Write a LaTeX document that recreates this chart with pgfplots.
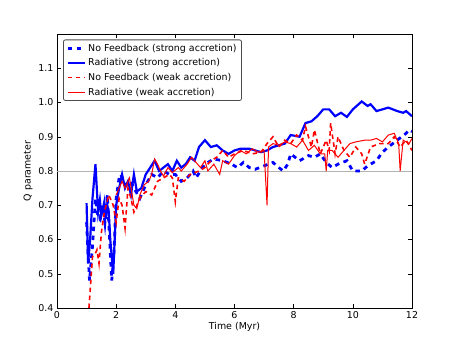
\documentclass[border=0pt]{standalone}
\usepackage{pgfplots}
\pgfplotsset{compat=1.18}
\usepackage{fontspec}
\setmainfont{DejaVu Sans}

% Q parameter, strong accretion, no feedback
\newcommand{\nfstrong}{
(1.0,0.65) (1.05,0.56) (1.1,0.48) (1.2,0.58) (1.3,0.72) (1.38,0.67) (1.45,0.66) (1.55,0.70) (1.62,0.65) (1.7,0.73) (1.78,0.60) (1.85,0.48) (1.92,0.55) (2.0,0.72) (2.1,0.78) (2.15,0.79) (2.3,0.76) (2.5,0.77) (2.6,0.75) (2.8,0.72) (3.0,0.76) (3.2,0.79) (3.4,0.78) (3.6,0.80) (3.8,0.79) (4.0,0.79) (4.2,0.77) (4.4,0.78) (4.6,0.80) (4.7,0.78) (5.0,0.82) (5.3,0.835) (5.6,0.83) (5.9,0.82) (6.1,0.81) (6.3,0.825) (6.5,0.81) (6.7,0.805) (7.0,0.815) (7.3,0.825) (7.5,0.81) (7.65,0.80) (7.8,0.82) (7.9,0.85) (8.2,0.83) (8.5,0.845) (8.7,0.84) (8.9,0.85) (9.1,0.825) (9.3,0.81) (9.5,0.82) (9.8,0.83) (10.0,0.80) (10.3,0.80) (10.5,0.815) (10.8,0.83) (11.0,0.855) (11.2,0.87) (11.5,0.89) (11.8,0.91) (11.9,0.92) (12.0,0.915)}

% strong accretion, radiative
\newcommand{\radstrong}{
(1.0,0.706) (1.05,0.53) (1.12,0.60) (1.2,0.72) (1.3,0.82) (1.39,0.68) (1.45,0.715) (1.5,0.67) (1.6,0.71) (1.65,0.66) (1.7,0.70) (1.75,0.68) (1.8,0.60) (1.85,0.55) (1.9,0.50) (2.0,0.70) (2.1,0.75) (2.2,0.79) (2.3,0.75) (2.4,0.77) (2.5,0.73) (2.6,0.79) (2.7,0.74) (2.85,0.75) (3.0,0.79) (3.15,0.81) (3.3,0.83) (3.45,0.80) (3.6,0.81) (3.75,0.82) (3.9,0.80) (4.05,0.83) (4.2,0.81) (4.35,0.82) (4.5,0.84) (4.65,0.83) (4.8,0.87) (5.0,0.89) (5.2,0.87) (5.4,0.875) (5.6,0.86) (5.8,0.85) (6.0,0.86) (6.2,0.865) (6.5,0.865) (6.7,0.86) (6.9,0.855) (7.1,0.86) (7.3,0.87) (7.5,0.875) (7.7,0.88) (7.9,0.905) (8.2,0.90) (8.4,0.94) (8.6,0.945) (8.8,0.96) (9.0,0.98) (9.2,0.98) (9.4,0.96) (9.6,0.97) (9.8,0.958) (10.0,0.98) (10.3,1.003) (10.5,0.99) (10.6,0.995) (10.8,0.975) (11.0,0.98) (11.2,0.985) (11.5,0.975) (11.7,0.97) (11.8,0.975) (12.0,0.96)}

% weak accretion, no feedback
\newcommand{\nfweak}{
(1.08,0.40) (1.2,0.55) (1.3,0.56) (1.35,0.57) (1.42,0.53) (1.5,0.62) (1.6,0.68) (1.75,0.73) (1.9,0.70) (2.0,0.65) (2.1,0.72) (2.2,0.70) (2.3,0.633) (2.4,0.75) (2.5,0.72) (2.6,0.68) (2.8,0.72) (3.0,0.74) (3.2,0.73) (3.4,0.77) (3.6,0.78) (3.8,0.79) (3.9,0.78) (4.0,0.71) (4.1,0.78) (4.3,0.77) (4.5,0.79) (4.8,0.80) (5.0,0.81) (5.2,0.83) (5.4,0.84) (5.6,0.86) (5.8,0.84) (6.0,0.85) (6.3,0.86) (6.6,0.85) (6.9,0.855) (7.1,0.88) (7.3,0.90) (7.5,0.87) (7.7,0.89) (7.9,0.88) (8.1,0.905) (8.3,0.89) (8.4,0.93) (8.6,0.87) (8.7,0.92) (8.9,0.85) (9.1,0.89) (9.2,0.86) (9.25,0.94) (9.4,0.85) (9.5,0.90) (9.7,0.86) (9.9,0.84) (10.1,0.87) (10.3,0.85) (10.4,0.82) (10.6,0.87) (10.9,0.88) (11.2,0.88) (11.4,0.90) (11.6,0.87) (11.8,0.89) (12.0,0.86)}

% weak accretion, radiative
\newcommand{\radweak}{
(2.0,0.73) (2.2,0.77) (2.3,0.75) (2.45,0.78) (2.6,0.70) (2.7,0.69) (2.8,0.73) (2.95,0.76) (3.1,0.77) (3.2,0.79) (3.3,0.835) (3.4,0.82) (3.5,0.80) (3.6,0.785) (3.75,0.81) (3.9,0.795) (4.1,0.81) (4.2,0.80) (4.4,0.82) (4.55,0.84) (4.7,0.825) (4.85,0.81) (5.0,0.83) (5.1,0.80) (5.3,0.82) (5.5,0.79) (5.6,0.83) (5.8,0.82) (6.0,0.845) (6.2,0.86) (6.4,0.85) (6.6,0.865) (6.8,0.855) (7.0,0.86) (7.1,0.70) (7.15,0.87) (7.3,0.88) (7.5,0.875) (7.7,0.885) (7.9,0.88) (8.1,0.87) (8.3,0.89) (8.5,0.86) (8.7,0.875) (8.9,0.85) (9.05,0.85) (9.1,0.80) (9.15,0.86) (9.3,0.86) (9.5,0.84) (9.7,0.86) (9.9,0.88) (10.1,0.885) (10.4,0.89) (10.6,0.89) (10.8,0.895) (11.0,0.885) (11.2,0.905) (11.4,0.91) (11.55,0.88) (11.6,0.80) (11.7,0.89) (11.9,0.88) (12.0,0.895)}

\begin{document}
\begin{tikzpicture}
\path[use as bounding box] (-57bp,-35bp) rectangle (401bp,308bp);
\begin{axis}[
    at={(0,0)}, anchor=south west,
    scale only axis,
    width=355bp, height=274bp,
    xmin=0, xmax=12, ymin=0.4, ymax=1.2,
    xtick={0,2,4,6,8,10,12},
    ytick={0.4,0.5,0.6,0.7,0.8,0.9,1.0,1.1},
    yticklabel style={/pgf/number format/fixed, /pgf/number format/fixed zerofill, /pgf/number format/precision=1},
    /pgf/number format/assume math mode=true,
    tick align=inside,
    major tick length=4bp,
    tick style={black, line width=0.5pt},
    axis line style={line width=0.8pt},
    ticklabel style={font=\fontsize{9.5}{11}\selectfont},
    xlabel={Time (Myr)},
    ylabel={Q parameter},
    label style={font=\fontsize{9.5}{11}\selectfont},
    xlabel style={yshift=3bp},
    ylabel style={yshift=-1bp},
    legend style={at={(0.017,0.98)}, anchor=north west, font=\fontsize{9.5}{11}\selectfont,
        draw=black!70, rounded corners=2pt, line width=0.8pt, inner xsep=3pt, inner ysep=2pt,
        row sep=2pt},
    legend cell align=left,
]
\addplot[gray!60, line width=0.8pt, forget plot] coordinates {(0,0.8) (12,0.8)};
\addplot[blue, line width=2.8pt, dash pattern=on 4.5bp off 4.5bp] coordinates {\nfstrong};
\addlegendentry{No Feedback (strong accretion)}
\addplot[blue, line width=2.2pt] coordinates {\radstrong};
\addlegendentry{Radiative (strong accretion)}
\addplot[red, line width=1.6pt, dash pattern=on 4.5bp off 3.5bp] coordinates {\nfweak};
\addlegendentry{No Feedback (weak accretion)}
\addplot[red, line width=1.0pt] coordinates {\radweak};
\addlegendentry{Radiative (weak accretion)}
\end{axis}
\end{tikzpicture}
\end{document}
